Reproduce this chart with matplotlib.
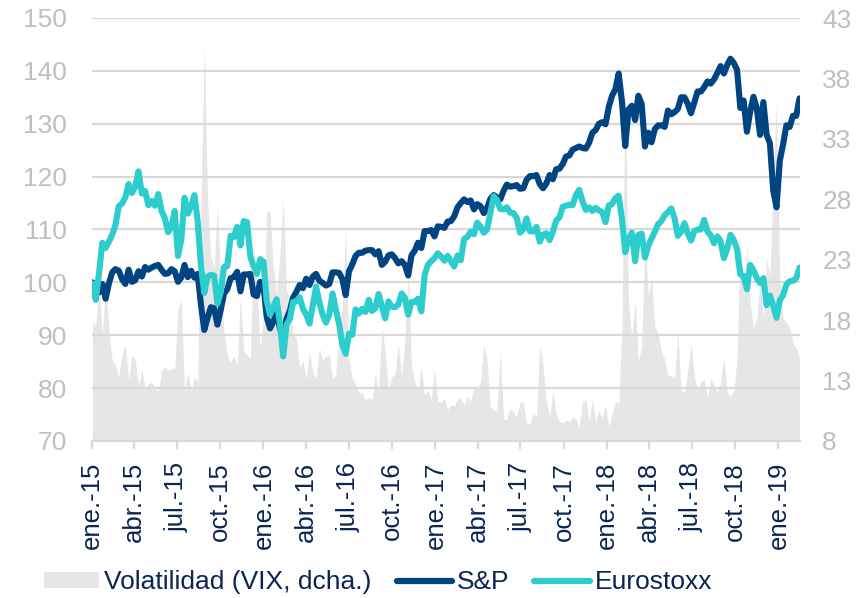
import numpy as np
import pandas as pd
import matplotlib
matplotlib.use('Agg')
import matplotlib.pyplot as plt
from matplotlib.patches import Patch
from matplotlib.lines import Line2D

plt.rcParams['font.family'] = ['Liberation Sans', 'DejaVu Sans']

# weekly observations (fridays), jan-2015 .. feb-2019
fechas = pd.date_range('2015-01-02', '2019-02-15', freq='W-FRI')

# S&P 500 (base 100 = end 2014)
sp_2015 = [100.0, 99.3, 98.1, 99.7, 96.9, 99.8, 101.9, 102.5, 102.2,
           100.6, 99.7, 102.4, 100.1, 100.4, 102.1, 101.1, 102.9,
           102.4, 102.8, 103.1, 103.3, 102.4, 101.6, 101.7, 102.5, 102.1,
           100.1, 100.9, 103.3, 101.0, 102.2, 100.9, 101.6, 95.7, 91.0,
           93.3, 95.3, 95.1, 92.0, 94.8, 97.9, 98.7, 100.8, 101.0,
           102.0, 98.3, 101.5, 101.5, 101.6, 97.7, 97.4, 100.1]
sp_2016 = [99.3, 93.4, 91.3, 92.6, 94.2, 91.3, 89.5, 93.1, 94.6,
           97.1, 98.2, 99.5, 98.9, 100.7, 99.5, 101.1, 101.6, 100.3,
           99.9, 99.4, 99.7, 101.9, 101.9, 101.8, 100.6, 97.6,
           102.1, 103.4, 105.0, 105.6, 105.6, 106.0, 106.1, 106.1, 105.3,
           105.9, 103.3, 103.9, 105.1, 105.3, 104.6, 103.6, 104.0, 103.3,
           101.3, 105.1, 106.0, 107.5, 106.5, 109.7, 109.7, 109.9, 108.7]
sp_2017 = [110.6, 110.5, 110.3, 111.5, 111.6, 112.5, 114.2, 115.0,
           115.7, 115.2, 115.5, 113.8, 114.8, 114.4, 113.1, 114.1, 115.8,
           116.5, 116.1, 115.7, 117.3, 118.5, 118.1, 118.2, 118.4, 117.7,
           117.8, 119.4, 120.1, 120.1, 120.3, 118.6, 117.8, 118.7,
           120.3, 119.5, 121.4, 121.5, 122.4, 123.8, 124.0, 125.1, 125.4,
           125.7, 125.4, 125.3, 126.4, 128.3, 128.8, 130.0, 130.3, 129.9]
sp_2018 = [133.2, 135.3, 136.5, 139.5, 134.2, 125.8, 132.7, 133.4,
           130.7, 135.3, 133.7, 125.7, 128.3, 126.5, 129.0, 129.7, 129.7,
           129.4, 132.5, 131.8, 132.2, 132.8, 135.0, 135.0, 133.8, 132.0,
           134.0, 136.1, 136.1, 136.9, 138.0, 137.6, 138.4, 139.6, 140.9,
           139.5, 141.1, 142.3, 141.5, 140.2, 133.0, 134.4, 128.5,
           132.3, 135.1, 132.9, 127.9, 134.1, 127.9, 126.3, 117.4, 114.2]
sp_2019 = [123.0, 126.1, 129.7, 129.4, 131.5, 131.5, 134.8]

# Eurostoxx 50 (base 100 = end 2014)
es_2015 = [99.8, 96.7, 101.8, 107.5, 106.5, 107.7, 109.0, 110.9, 114.4,
           114.9, 116.1, 118.6, 116.9, 118.1, 121.0, 116.8, 117.3,
           114.6, 115.4, 114.5, 116.7, 113.5, 112.1, 109.5, 110.5, 113.5,
           105.0, 108.0, 116.0, 113.0, 114.5, 116.5, 111.5, 103.0, 98.0,
           101.1, 101.4, 101.3, 96.0, 98.1, 102.9, 103.1, 108.8, 108.6,
           110.5, 107.0, 111.6, 111.4, 104.9, 103.0, 101.6, 104.4]
es_2016 = [103.9, 96.4, 93.9, 95.4, 96.8, 92.1, 86.0, 92.0, 93.1,
           96.3, 96.4, 97.2, 95.0, 93.9, 92.2, 95.7, 99.2, 96.2,
           93.9, 92.4, 93.9, 97.9, 94.9, 92.1, 88.2, 86.5,
           90.3, 90.1, 94.9, 94.1, 95.0, 94.4, 96.7, 94.6, 95.1,
           97.8, 95.5, 93.2, 96.4, 95.4, 95.3, 95.8, 97.9, 97.1,
           93.9, 96.3, 96.3, 96.9, 94.5, 101.4, 103.3, 104.0, 104.6]
es_2017 = [105.5, 104.9, 104.1, 105.0, 104.0, 103.0, 105.1, 104.2,
           108.2, 108.6, 109.6, 109.1, 111.3, 110.5, 109.4, 110.0, 113.1,
           116.3, 115.6, 113.9, 113.8, 114.2, 113.2, 113.1, 112.2, 109.4,
           110.0, 112.1, 109.7, 109.6, 110.5, 107.7, 109.0, 109.3,
           108.0, 109.6, 111.7, 112.3, 114.3, 114.5, 114.7, 114.6, 116.5,
           117.5, 115.4, 113.7, 114.2, 113.5, 114.1, 113.6, 113.3, 111.4]
es_2018 = [114.6, 114.8, 115.9, 116.4, 112.0, 105.7, 108.2, 109.4,
           104.0, 109.0, 109.2, 104.7, 106.9, 108.3, 109.6, 111.0, 111.6,
           112.7, 113.3, 114.0, 112.1, 108.8, 109.6, 111.2, 109.3, 107.9,
           109.7, 110.0, 110.0, 111.8, 109.6, 108.9, 107.4, 108.7, 107.8,
           104.6, 106.3, 109.0, 108.0, 106.3, 101.5, 101.2, 98.7,
           103.3, 102.3, 100.8, 99.9, 100.8, 95.7, 97.5, 95.6, 93.3]
es_2019 = [96.6, 97.6, 99.6, 100.2, 100.3, 100.8, 102.8]

# VIX (right axis)
vix_2015 = [17.8, 17.6, 20.9, 16.7, 21.0, 17.3, 14.7, 14.3, 13.3,
            15.2, 16.0, 13.0, 15.1, 14.7, 12.6, 13.9, 12.3,
            12.7, 12.9, 12.4, 12.1, 13.8, 14.2, 13.8, 14.0, 14.0,
            18.9, 19.7, 12.0, 13.7, 12.1, 13.4, 12.8, 28.0, 40.7,
            27.8, 23.2, 22.3, 27.6, 20.9, 17.1, 15.1, 14.5, 15.1,
            14.3, 20.1, 15.5, 15.1, 14.8, 24.4, 20.7, 15.7]
vix_2016 = [18.2, 27.0, 27.0, 22.3, 20.2, 23.4, 28.1, 20.5, 19.8,
            16.9, 16.5, 14.0, 14.7, 13.1, 15.4, 13.6, 13.2, 15.7,
            14.7, 15.0, 15.2, 13.1, 13.5, 17.0, 19.4, 25.8,
            14.8, 13.2, 12.7, 12.0, 12.0, 11.4, 11.6, 11.3, 13.6,
            12.0, 17.5, 15.4, 12.3, 13.3, 13.5, 16.1, 13.3, 16.2,
            22.5, 14.2, 12.9, 12.3, 14.1, 11.8, 12.2, 11.4, 14.0]
vix_2017 = [11.3, 11.2, 11.5, 10.6, 11.0, 10.9, 11.5, 11.5,
            11.0, 11.7, 11.3, 12.5, 12.4, 12.9, 16.0, 14.6, 10.8,
            10.6, 10.4, 15.6, 9.8, 9.8, 10.7, 10.4, 10.0, 11.2,
            11.2, 9.5, 9.4, 10.3, 10.0, 16.0, 14.3, 11.3,
            10.1, 12.1, 10.2, 9.6, 9.5, 9.7, 9.6, 10.0, 9.8,
            9.1, 11.3, 11.4, 9.7, 11.4, 9.6, 10.5, 9.9, 11.0]
vix_2018 = [9.2, 10.2, 11.3, 11.1, 17.3, 37.3, 19.5, 16.5,
            19.6, 14.6, 15.8, 24.9, 20.0, 21.5, 17.4, 16.9, 15.4,
            14.8, 13.4, 13.4, 13.2, 17.0, 12.2, 12.0, 13.8, 16.1,
            13.4, 12.2, 12.9, 13.0, 11.6, 13.2, 12.6, 12.0, 12.9,
            14.9, 12.1, 11.7, 12.1, 14.8, 25.0, 19.9, 24.2,
            19.5, 17.4, 18.1, 21.5, 18.1, 23.2, 21.6, 30.1, 36.1]
vix_2019 = [21.4, 18.2, 17.8, 17.4, 16.1, 15.7, 14.9]

sp = sp_2015 + sp_2016 + sp_2017 + sp_2018 + sp_2019
stoxx = es_2015 + es_2016 + es_2017 + es_2018 + es_2019
vix = vix_2015 + vix_2016 + vix_2017 + vix_2018 + vix_2019

# quarterly tick labels
meses = ['ene.', 'abr.', 'jul.', 'oct.']
ticks = pd.date_range('2015-01-01', '2019-01-01', freq='QS')
tick_labels = [f'{meses[(t.month - 1) // 3]}-{t.year % 100}' for t in ticks]

# colours
navy = '#004481'
aqua = '#2dcccd'
area = '#e6e6e6'
grid = '#d9d9d9'
axis_txt = '#bfbfbf'
legend_txt = '#0a2553'

fig = plt.figure(figsize=(8.66, 5.98), dpi=100)
ax = fig.add_axes([92 / 866, 1 - 441 / 598, 708 / 866, 423 / 598])
ax2 = ax.twinx()

# volatility area on the right axis, behind everything
ax2.fill_between(fechas, 8, vix, color=area, lw=0)
ax2.set_ylim(8, 43)
ax2.set_yticks(np.arange(8, 44, 5))

# lines on the left axis, drawn above the area
ax.set_zorder(ax2.get_zorder() + 1)
ax.patch.set_visible(False)
ax.plot(fechas, sp, color=navy, lw=4.4, solid_capstyle='round', solid_joinstyle='round')
ax.plot(fechas, stoxx, color=aqua, lw=4.4, solid_capstyle='round', solid_joinstyle='round')

ax.set_ylim(70, 150)
ax.set_yticks(np.arange(70, 151, 10))
ax.set_xlim(pd.Timestamp('2015-01-01'), pd.Timestamp('2019-02-16'))
ax.set_xticks(ticks)
ax.set_xticklabels(tick_labels, rotation=90)
ax.yaxis.grid(True, color=grid, lw=1.6)
ax.set_axisbelow(True)

for a in (ax, ax2):
    for s in a.spines.values():
        s.set_visible(False)
ax.spines['bottom'].set_visible(True)
ax.spines['bottom'].set_color(grid)
ax.spines['bottom'].set_linewidth(1.6)

ax.tick_params(axis='y', length=0, pad=18, labelsize=19, labelcolor=axis_txt)
ax2.tick_params(axis='y', length=0, pad=16, labelsize=19, labelcolor=axis_txt)
ax.tick_params(axis='x', length=6, width=1.6, color=grid, pad=9,
               labelsize=18.5, labelcolor=legend_txt)

handles = [Patch(facecolor=area, edgecolor='none'),
           Line2D([], [], color=navy, lw=4.5, solid_capstyle='round'),
           Line2D([], [], color=aqua, lw=4.5, solid_capstyle='round')]
labels = ['Volatilidad (VIX, dcha.)', 'S&P', 'Eurostoxx']
fig.legend(handles, labels, loc='center left', bbox_to_anchor=(44 / 866, 0.026), ncol=3,
           frameon=False, fontsize=19, labelcolor=legend_txt, handlelength=2.1,
           handleheight=0.57, handletextpad=0.18, columnspacing=0.95,
           borderpad=0, borderaxespad=0)

fig.savefig('out.png', dpi=100)
